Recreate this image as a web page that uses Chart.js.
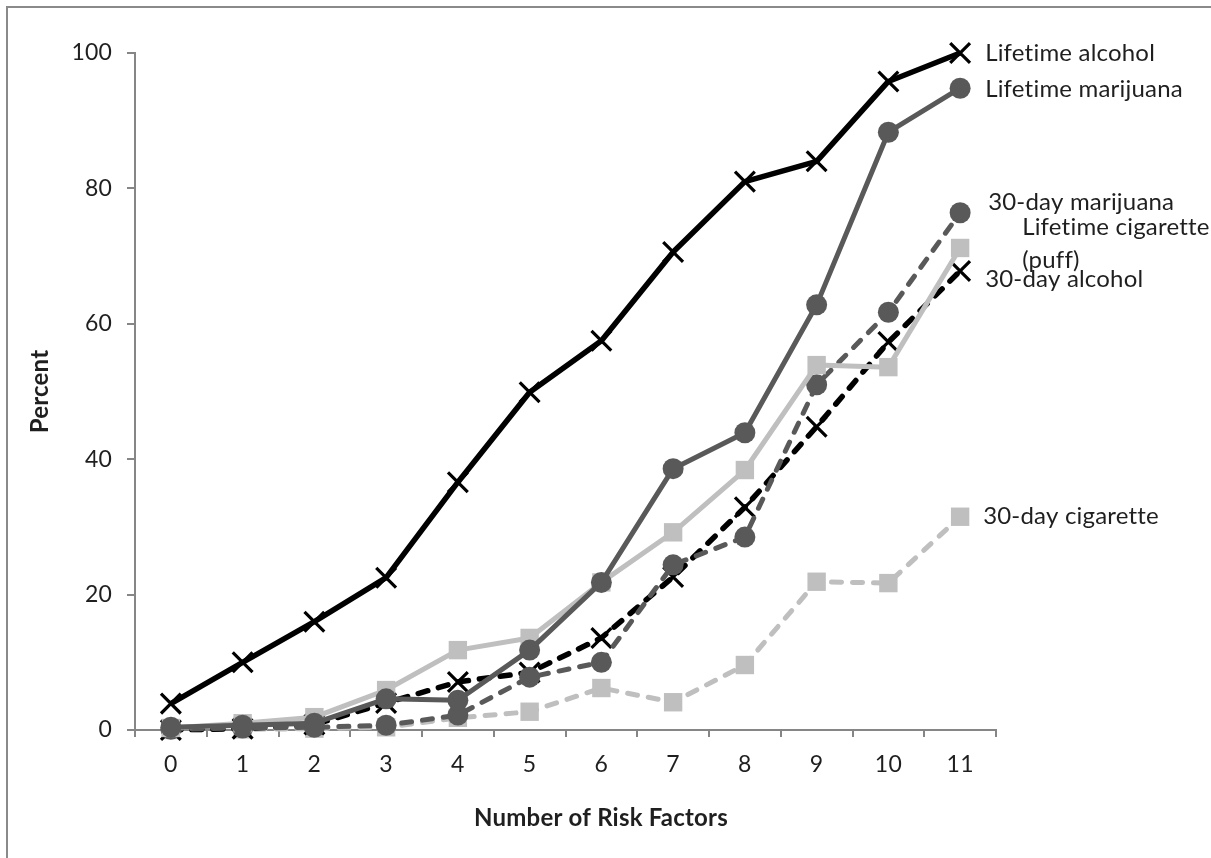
<!DOCTYPE html>
<html>
<head>
<meta charset="utf-8">
<title>Substance use by number of risk factors</title>
<script src="https://cdn.jsdelivr.net/npm/chart.js@4.4.0/dist/chart.umd.min.js"></script>
<style>
  html, body { margin: 0; padding: 0; background: #fff; }
  #wrap { width: 1211px; height: 858px; position: relative; }
  #riskChart { font-variant-ligatures: none; letter-spacing: 0.2px; }
</style>
</head>
<body>
<div id="wrap"><canvas id="riskChart" width="1211" height="858"></canvas></div>
<script>
// Number of risk factors (x categories)
const riskFactors = ['0', '1', '2', '3', '4', '5', '6', '7', '8', '9', '10', '11'];
const percentTicks = [0, 20, 40, 60, 80, 100];

// Percent of students reporting use
const lifetimeAlcohol    = [3.9, 10.0, 16.0, 22.5, 36.6, 49.9, 57.5, 70.6, 81.0, 84.0, 95.8, 100];
const lifetimeMarijuana  = [0.4, 0.7, 1.0, 4.6, 4.4, 11.8, 21.8, 38.6, 43.9, 62.8, 88.3, 94.8];
const lifetimeCigarette  = [0.3, 1.0, 1.9, 5.9, 11.8, 13.6, 21.8, 29.2, 38.4, 53.9, 53.6, 71.2];
const thirtyDayMarijuana = [0.1, 0.3, 0.4, 0.7, 2.2, 7.8, 10.0, 24.4, 28.5, 51.0, 61.7, 76.4];
const thirtyDayAlcohol   = [0.0, 0.2, 0.8, 4.0, 7.1, 8.5, 13.6, 22.6, 32.9, 44.8, 57.3, 67.8];
const thirtyDayCigarette = [0.0, 0.1, 0.2, 0.4, 1.8, 2.7, 6.2, 4.1, 9.6, 21.9, 21.7, 31.5];

const FONT = 'Lato, "Open Sans", sans-serif';
const TEXT = '#1f1f1f';
const AXIS = '#868686';
const BLACK = '#000000';
const DARK = '#595959';
const LIGHT = '#bfbfbf';

function lineSeries(label, data, color, marker, dashed) {
    const isCross = marker === 'crossRot';
    return {
        label: label,
        data: data,
        borderColor: color,
        backgroundColor: color,
        borderWidth: isCross ? 5.5 : 5,
        borderDash: dashed ? [10, 11] : [],
        borderCapStyle: dashed ? 'round' : 'butt',
        borderJoinStyle: 'round',
        tension: 0,
        clip: false,
        pointStyle: marker,
        pointRadius: isCross ? 14 : (marker === 'rect' ? 13 : 10.5),
        pointBorderWidth: isCross ? 3.2 : 0,
        pointBorderColor: color,
        pointBackgroundColor: color
    };
}

// label text next to the last point of each series; dx/dy are pixel offsets
const endLabels = [
    { lines: ['Lifetime alcohol'], dx: 25, dy: 0 },
    { lines: ['Lifetime marijuana'], dx: 25, dy: 1 },
    { lines: ['Lifetime cigarette', '(puff)'], dx: 62, dy: -21 },
    { lines: ['30-day marijuana'], dx: 28, dy: -11 },
    { lines: ['30-day alcohol'], dx: 25, dy: 8 },
    { lines: ['30-day cigarette'], dx: 23, dy: 0 }
];

const decorPlugin = {
    id: 'decor',
    beforeDraw(chart) {
        // outer chart frame (only top and left edges fall inside the view)
        const ctx = chart.ctx;
        ctx.save();
        ctx.strokeStyle = '#8a8a8a';
        ctx.lineWidth = 2;
        ctx.beginPath();
        ctx.moveTo(7, chart.height);
        ctx.lineTo(7, 7);
        ctx.lineTo(chart.width, 7);
        ctx.stroke();
        ctx.restore();
    },
    afterDraw(chart) {
        const ctx = chart.ctx;
        const x = chart.scales.x;
        const y = chart.scales.y;
        ctx.save();
        if ('letterSpacing' in ctx) ctx.letterSpacing = '0.2px';
        ctx.fillStyle = TEXT;
        ctx.textAlign = 'left';
        ctx.textBaseline = 'middle';
        ctx.font = '24px ' + FONT;
        chart.data.datasets.forEach(function(ds, i) {
            const lab = endLabels[i];
            const last = ds.data.length - 1;
            const px = x.getPixelForValue(last) + lab.dx;
            const py = y.getPixelForValue(ds.data[last]) + lab.dy;
            lab.lines.forEach(function(t, k) {
                ctx.fillText(t, px, py + k * 33);
            });
        });

        // axis titles
        ctx.font = 'bold 24px ' + FONT;
        ctx.textAlign = 'center';
        ctx.fillText('Number of Risk Factors', 601, 818);
        ctx.translate(40, (chart.chartArea.top + chart.chartArea.bottom) / 2);
        ctx.rotate(-Math.PI / 2);
        ctx.fillText('Percent', 0, 0);
        ctx.restore();
    }
};

document.addEventListener('DOMContentLoaded', function() {
    try {
        const canvas = document.getElementById('riskChart');
        new Chart(canvas.getContext('2d'), {
            type: 'line',
            data: {
                labels: riskFactors,
                datasets: [
                    lineSeries('Lifetime alcohol', lifetimeAlcohol, BLACK, 'crossRot', false),
                    lineSeries('Lifetime marijuana', lifetimeMarijuana, DARK, 'circle', false),
                    lineSeries('Lifetime cigarette (puff)', lifetimeCigarette, LIGHT, 'rect', false),
                    lineSeries('30-day marijuana', thirtyDayMarijuana, DARK, 'circle', true),
                    lineSeries('30-day alcohol', thirtyDayAlcohol, BLACK, 'crossRot', true),
                    lineSeries('30-day cigarette', thirtyDayCigarette, LIGHT, 'rect', true)
                ]
            },
            options: {
                responsive: false,
                animation: false,
                layout: { padding: { top: 53, right: 215, bottom: 0, left: 0 } },
                plugins: {
                    legend: { display: false },
                    tooltip: { enabled: false }
                },
                scales: {
                    x: {
                        offset: true,
                        grid: { offset: true, drawOnChartArea: false, drawTicks: true, tickLength: 7, color: AXIS, lineWidth: 2 },
                        border: { display: true, color: AXIS, width: 2 },
                        ticks: { color: TEXT, font: { family: FONT, size: 23 }, padding: 14, maxRotation: 0, autoSkip: false },
                        afterFit: function(scale) { scale.height = 128; }
                    },
                    y: {
                        min: 0,
                        max: 100,
                        grid: { drawOnChartArea: false, drawTicks: true, tickLength: 8, color: AXIS, lineWidth: 2 },
                        border: { display: true, color: AXIS, width: 2 },
                        ticks: { color: TEXT, font: { family: FONT, size: 23 }, padding: 15 },
                        afterBuildTicks: function(scale) { scale.ticks = percentTicks.map(function(v) { return { value: v }; }); },
                        afterFit: function(scale) { scale.width = 135; }
                    }
                }
            },
            plugins: [decorPlugin]
        });
    } catch(e) { console.error('chart init', e); }
});
</script>
</body>
</html>
